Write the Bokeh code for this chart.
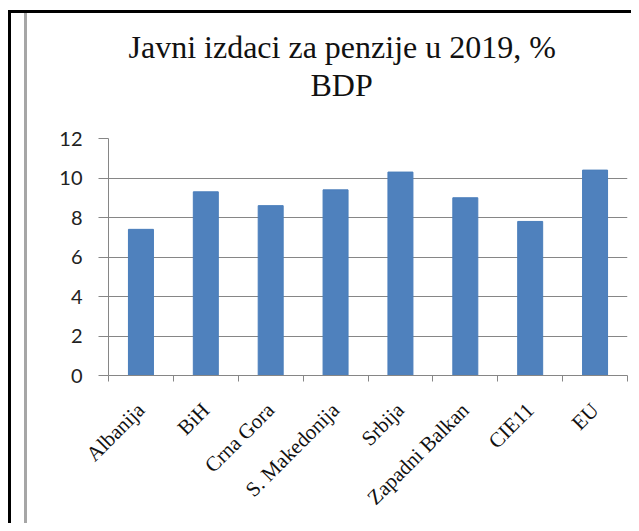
import math
from bokeh.plotting import figure
from bokeh.models import (Range1d, LinearAxis, FixedTicker, Grid, Title, ColumnDataSource)
from bokeh.embed import file_html
from bokeh.resources import INLINE

categories = ["Albanija", "BiH", "Crna Gora", "S. Makedonija", "Srbija",
              "Zapadni Balkan", "CIE11", "EU"]
values = [7.4, 9.3, 8.6, 9.4, 10.3, 9.0, 7.8, 10.4]
y_ticks = [0, 2, 4, 6, 8, 10, 12]
title_lines = ["Javni izdaci za penzije u 2019, %", "BDP"]

n = len(categories)
centers = [i + 0.5 for i in range(n)]
bounds = list(range(n + 1))

W, H = 631, 523
GRAY = "#868686"

p = figure(width=W, height=H, x_range=Range1d(0, n), y_range=Range1d(0, 12),
           output_backend="svg", toolbar_location=None,
           x_axis_location=None, y_axis_location=None,
           min_border_left=108, min_border_right=4, min_border_top=138, min_border_bottom=148)
p.center = [r for r in p.center if not isinstance(r, Grid)]
p.outline_line_color = None
p.background_fill_color = "white"
p.border_fill_alpha = 0
p.styles = {
    "background-color": "white",
    "background-image": ("linear-gradient(black, black), linear-gradient(black, black), "
                         "linear-gradient(#A6A6A6, #A6A6A6)"),
    "background-size": "3px 100%, 100% 3px, 3px 100%",
    "background-position": "8px 10px, 8px 10px, 24px 13px",
    "background-repeat": "no-repeat",
}

# y axis
yaxis = LinearAxis(ticker=FixedTicker(ticks=y_ticks),
                   axis_line_color=GRAY, major_tick_line_color=GRAY,
                   major_tick_out=10, major_tick_in=0, minor_tick_line_color=None,
                   major_label_standoff=16, major_label_text_font="Lato",
                   major_label_text_font_size="20px", major_label_text_color="#222222")
p.add_layout(yaxis, "left")
p.add_layout(Grid(dimension=1, ticker=yaxis.ticker, grid_line_color=GRAY))

# x axis: labels at category centres, tick marks at category boundaries
xaxis = LinearAxis(ticker=FixedTicker(ticks=centers, minor_ticks=bounds),
                   major_label_overrides={c: name for c, name in zip(centers, categories)},
                   axis_line_color=GRAY,
                   major_tick_line_color=None, major_tick_out=0, major_tick_in=0,
                   minor_tick_line_color=GRAY, minor_tick_out=6, minor_tick_in=0,
                   major_label_orientation=math.pi / 4,
                   major_label_standoff=25,
                   major_label_text_font="Liberation Serif",
                   major_label_text_font_size="21px",
                   major_label_text_color="#111111")
p.add_layout(xaxis, "below")

src = ColumnDataSource(dict(x=centers, top=values))
p.vbar(x="x", top="top", width=0.385, source=src,
       fill_color="#4F81BD", line_color="#4A7EBB", line_width=1)

# title (two lines, nearest line first)
p.add_layout(Title(text=title_lines[1], align="left", offset=202, standoff=71,
                   text_font="Liberation Serif", text_font_size="32px",
                   text_font_style="normal", text_color="#111111"), "above")
p.add_layout(Title(text=title_lines[0], align="left", offset=20, standoff=-71,
                   text_font="Liberation Serif", text_font_size="32px",
                   text_font_style="normal", text_color="#111111"), "above")

open("out.html", "w").write(file_html(p, INLINE))
